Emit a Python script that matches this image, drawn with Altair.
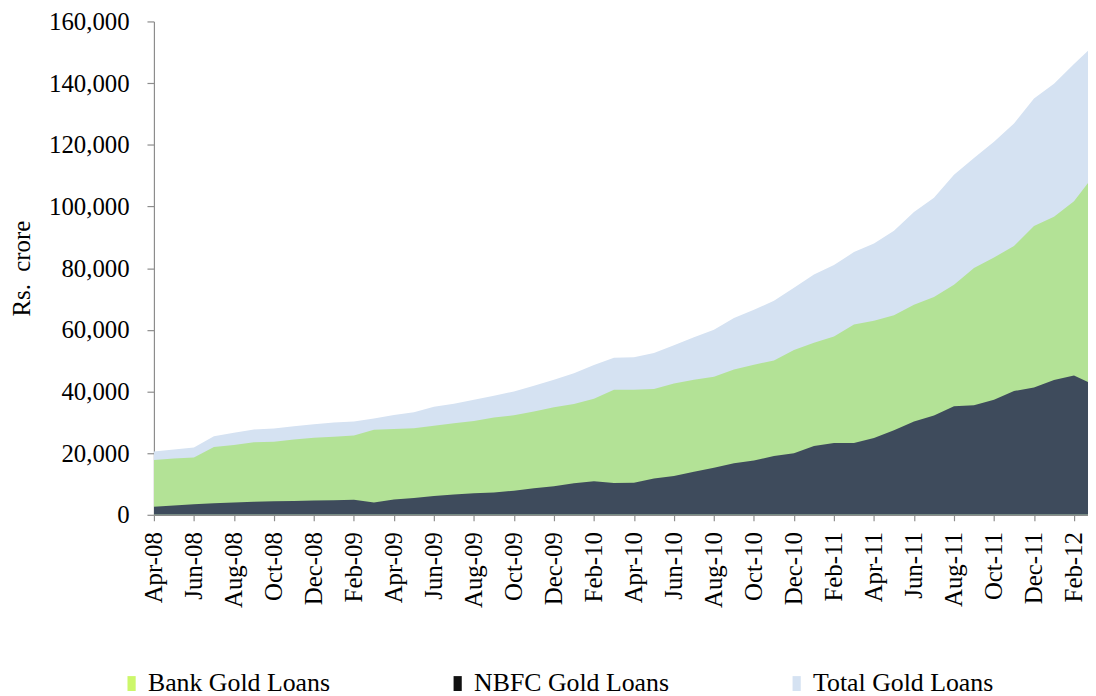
import altair as alt
import pandas as pd

months = [
    "Apr-08", "May-08", "Jun-08", "Jul-08", "Aug-08", "Sep-08", "Oct-08", "Nov-08",
    "Dec-08", "Jan-09", "Feb-09", "Mar-09", "Apr-09", "May-09", "Jun-09", "Jul-09",
    "Aug-09", "Sep-09", "Oct-09", "Nov-09", "Dec-09", "Jan-10", "Feb-10", "Mar-10",
    "Apr-10", "May-10", "Jun-10", "Jul-10", "Aug-10", "Sep-10", "Oct-10", "Nov-10",
    "Dec-10", "Jan-11", "Feb-11", "Mar-11", "Apr-11", "May-11", "Jun-11", "Jul-11",
    "Aug-11", "Sep-11", "Oct-11", "Nov-11", "Dec-11", "Jan-12", "Feb-12", "Mar-12",
]

total_gold_loans = [
    20500, 21150, 21800, 25500, 26600, 27700, 28000, 28750, 29400, 29900, 30250, 31200,
    32400, 33250, 35000, 36050, 37300, 38600, 40000, 41850, 43800, 45900, 48600, 50900,
    51100, 52500, 55000, 57600, 60000, 63800, 66500, 69400, 73600, 77900, 81000, 85200,
    88000, 92100, 98200, 102800, 110300, 115700, 121000, 126900, 135000, 139800, 146200, 152300,
]

bank_gold_loans = [
    17800, 18250, 18550, 22000, 22650, 23500, 23700, 24450, 25000, 25300, 25750, 27550,
    27800, 28100, 28850, 29700, 30450, 31550, 32300, 33500, 34850, 35950, 37600, 40550,
    40550, 40800, 42600, 43800, 44750, 47100, 48700, 50000, 53450, 55800, 57850, 61700,
    62900, 64700, 68150, 70600, 74600, 80050, 83450, 87150, 93650, 96650, 101700, 110100,
]

nbfc_gold_loans = [
    2600, 3000, 3450, 3750, 3950, 4200, 4400, 4500, 4600, 4700, 4850, 3950,
    4950, 5450, 6100, 6550, 7000, 7200, 7800, 8600, 9250, 10200, 10900, 10350,
    10400, 11800, 12550, 13950, 15250, 16750, 17600, 19100, 19950, 22300, 23300, 23300,
    24900, 27450, 30250, 32200, 35200, 35500, 37350, 40150, 41300, 43700, 45150, 42150,
]

series_names = ["Total Gold Loans", "Bank Gold Loans", "NBFC Gold Loans"]
area_colors = ["#D5E2F2", "#B3E296", "#3E4B5C"]
legend_names = ["Bank Gold Loans", "NBFC Gold Loans", "Total Gold Loans"]
legend_colors = ["#CCF76A", "#111111", "#D5E2F2"]
y_ticks = [0, 20000, 40000, 60000, 80000, 100000, 120000, 140000, 160000]
x_tick_idx = list(range(0, 47, 2))

rows = []
for name, vals in zip(series_names, [total_gold_loans, bank_gold_loans, nbfc_gold_loans]):
    for i, v in enumerate(vals):
        rows.append({"idx": i, "month": months[i], "value": v, "series": name})
df = pd.DataFrame(rows)

FONT = "Liberation Serif"
label_js = "[" + ",".join("'" + m + "'" for m in months) + "]"

x_enc = alt.X(
    "idx:Q",
    scale=alt.Scale(domain=[0, 46.7], nice=False, zero=False),
    axis=alt.Axis(
        values=x_tick_idx,
        labelExpr=label_js + "[datum.value]",
        labelAngle=270,
        labelFontSize=25,
        labelPadding=11,
        tickSize=6,
        title=None,
        labelOverlap=False,
        labelBound=False,
    ),
)
y_enc = alt.Y(
    "value:Q",
    scale=alt.Scale(domain=[0, 160000], nice=False),
    axis=alt.Axis(
        values=y_ticks,
        format=",d",
        labelFontSize=25,
        labelPadding=18,
        tickSize=7,
        title="Rs.\u00a0 crore",
        titleFontSize=25,
        titleFontWeight="normal",
        titleAngle=270,
        titleX=-133,
        titleY=248.5,
        titleAlign="center",
        titleBaseline="middle",
    ),
)

base = alt.Chart(df)
layers = []
for name, col in zip(series_names, area_colors):
    layers.append(
        base.transform_filter(alt.datum.series == name)
        .mark_area(color=col, clip=True, interpolate="linear")
        .encode(x=x_enc, y=y_enc)
    )

legend_df = pd.DataFrame({"series": legend_names})
legend_layer = (
    alt.Chart(legend_df)
    .mark_square(size=0, opacity=0)
    .encode(
        x=alt.value(0),
        y=alt.value(0),
        color=alt.Color(
            "series:N",
            scale=alt.Scale(domain=legend_names, range=legend_colors),
            legend=alt.Legend(
                title=None,
                orient="none",
                legendX=-35.5,
                legendY=654,
                direction="horizontal",
                columns=3,
                columnPadding=115.5,
                symbolType="M-0.55,-1H0.55V1H-0.55Z",
                symbolSize=225,
                symbolOpacity=1,
                symbolStrokeWidth=0,
                labelFontSize=26,
                labelFont=FONT,
                labelColor="#000000",
                labelOffset=3.5,
                labelLimit=400,
                padding=0,
            ),
        ),
    )
)

chart = (
    alt.layer(*layers, legend_layer)
    .properties(
        width=941,
        height=497,
        padding={"left": 147, "top": 11, "right": 0, "bottom": 180},
        autosize=alt.AutoSizeParams(type="none"),
        background="white",
    )
    .configure_view(stroke=None)
    .configure_axis(
        grid=False,
        domainColor="#8C8C8C",
        tickColor="#8C8C8C",
        domainWidth=1.2,
        tickWidth=1.2,
        labelFont=FONT,
        titleFont=FONT,
        labelColor="#000000",
        titleColor="#000000",
    )
)

chart.save("out.html", embed_options={"renderer": "svg", "actions": False})
